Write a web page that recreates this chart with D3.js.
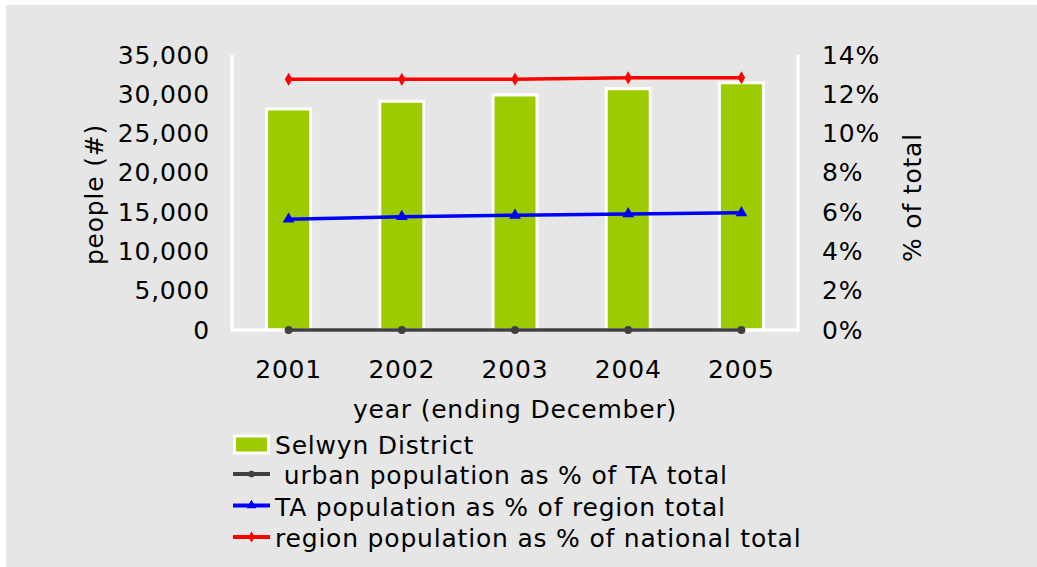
<!DOCTYPE html>
<html>
<head>
<meta charset="utf-8">
<script src="https://d3js.org/d3.v7.min.js"></script>
<style>
  html, body { margin: 0; padding: 0; background: #fff; }
  svg text { font-family: "DejaVu Sans", Verdana, sans-serif; fill: #000; letter-spacing: 0.8px; }
</style>
</head>
<body>
<div id="chart"></div>
<script>
var years = ['2001', '2002', '2003', '2004', '2005'];
var selwyn = [28130, 29110, 29910, 30710, 31470];
var urbanPct = [0, 0, 0, 0, 0];
var taPct = [5.64, 5.77, 5.84, 5.91, 5.97];
var regionPct = [12.76, 12.76, 12.77, 12.84, 12.84];
var leftTicks = [0, 5000, 10000, 15000, 20000, 25000, 30000, 35000];
var rightTicks = [0, 2, 4, 6, 8, 10, 12, 14];

var W = 1037, H = 567;
var plot = {left: 232, right: 798, top: 55, bottom: 330};

var svg = d3.select('#chart').append('svg')
  .attr('width', W)
  .attr('height', H);

svg.append('rect')
  .attr('x', 6).attr('y', 5)
  .attr('width', W - 6).attr('height', H - 5)
  .attr('fill', '#e6e6e6');

var x = d3.scaleBand().domain(years).range([plot.left, plot.right]).padding(0);
var y = d3.scaleLinear().domain([0, 35000]).range([plot.bottom, plot.top]);
var y2 = d3.scaleLinear().domain([0, 14]).range([plot.bottom, plot.top]);

// bars
svg.append('g').selectAll('rect')
  .data(selwyn)
  .enter().append('rect')
    .attr('x', function(d, i) { return x(years[i]) + x.bandwidth() / 2 - 22; })
    .attr('y', function(d) { return y(d); })
    .attr('width', 44)
    .attr('height', function(d) { return y(0) - y(d); })
    .attr('fill', '#9ccc00')
    .attr('stroke', '#fff')
    .attr('stroke-width', 3);

// axes (white lines, no tick marks)
var leftAxis = d3.axisLeft(y).tickValues(leftTicks).tickSize(0).tickPadding(22)
  .tickFormat(d3.format(','));
var rightAxis = d3.axisRight(y2).tickValues(rightTicks).tickSize(0).tickPadding(24)
  .tickFormat(function(d) { return d + '%'; });
var bottomAxis = d3.axisBottom(x).tickSize(0).tickPadding(30);

function styleAxis(g) {
  g.select('.domain').remove();
  g.selectAll('text').attr('font-size', 25).attr('fill', '#000')
    .style('font-family', '"DejaVu Sans", Verdana, sans-serif');
}

svg.append('g').attr('transform', 'translate(' + plot.left + ',0)').call(leftAxis).call(styleAxis);
svg.append('g').attr('transform', 'translate(' + plot.right + ',0)').call(rightAxis).call(styleAxis)
  .selectAll('text').attr('text-anchor', 'start');
svg.append('g').attr('transform', 'translate(0,' + plot.bottom + ')').call(bottomAxis).call(styleAxis);

var axisLines = svg.append('g').attr('stroke', '#fff').attr('stroke-width', 3).attr('fill', 'none');
axisLines.append('line').attr('x1', plot.left).attr('x2', plot.left).attr('y1', plot.top).attr('y2', plot.bottom + 1.5);
axisLines.append('line').attr('x1', plot.right).attr('x2', plot.right).attr('y1', plot.top).attr('y2', plot.bottom + 1.5);
axisLines.append('line').attr('x1', plot.left).attr('x2', plot.right).attr('y1', plot.bottom).attr('y2', plot.bottom);

// lines
var series = [
  {name: ' urban population as % of TA total', values: urbanPct, color: '#404040', symbol: d3.symbolCircle, size: 50},
  {name: 'TA population as % of region total', values: taPct, color: '#0000ff', symbol: d3.symbolTriangle, size: 60},
  {name: 'region population as % of national total', values: regionPct, color: '#ff0000', symbol: d3.symbolDiamond, size: 50}
];

var line = d3.line()
  .x(function(d, i) { return x(years[i]) + x.bandwidth() / 2; })
  .y(function(d) { return y2(d); });

series.forEach(function(s) {
  svg.append('path')
    .datum(s.values)
    .attr('d', line)
    .attr('fill', 'none')
    .attr('stroke', s.color)
    .attr('stroke-width', 3.5);
  svg.append('g').selectAll('path')
    .data(s.values)
    .enter().append('path')
      .attr('transform', function(d, i) {
        return 'translate(' + (x(years[i]) + x.bandwidth() / 2) + ',' + y2(d) + ')';
      })
      .attr('d', d3.symbol().type(s.symbol).size(s.size))
      .attr('fill', s.color);
});

// axis titles
svg.append('text')
  .attr('transform', 'translate(103,' + ((plot.top + plot.bottom) / 2 + 2) + ') rotate(-90)')
  .attr('text-anchor', 'middle')
  .attr('font-size', 25)
  .text('people (#)');

svg.append('text')
  .attr('transform', 'translate(921,' + ((plot.top + plot.bottom) / 2 + 5) + ') rotate(-90)')
  .attr('text-anchor', 'middle')
  .attr('font-size', 25)
  .text('% of total');

svg.append('text')
  .attr('x', (plot.left + plot.right) / 2)
  .attr('y', 418)
  .attr('text-anchor', 'middle')
  .attr('font-size', 25)
  .text('year (ending December)');

// legend
var legend = svg.append('g').attr('transform', 'translate(233, 0)');
legend.append('rect')
  .attr('x', 1.5).attr('y', 436)
  .attr('width', 34).attr('height', 17)
  .attr('fill', '#9ccc00')
  .attr('stroke', '#fff')
  .attr('stroke-width', 3);
legend.append('text')
  .attr('x', 42).attr('y', 454)
  .attr('font-size', 25)
  .text('Selwyn District');

series.forEach(function(s, i) {
  var ly = 474 + i * 31.5;
  legend.append('line')
    .attr('x1', 0).attr('x2', 37)
    .attr('y1', ly).attr('y2', ly)
    .attr('stroke', s.color)
    .attr('stroke-width', 4);
  legend.append('path')
    .attr('transform', 'translate(18.5,' + ly + ')')
    .attr('d', d3.symbol().type(s.symbol).size(s.size * 0.7))
    .attr('fill', s.color);
  legend.append('text')
    .attr('x', 42).attr('y', ly + 10)
    .attr('font-size', 25)
    .attr('xml:space', 'preserve')
    .style('white-space', 'pre')
    .text(s.name);
});
</script>
</body>
</html>
